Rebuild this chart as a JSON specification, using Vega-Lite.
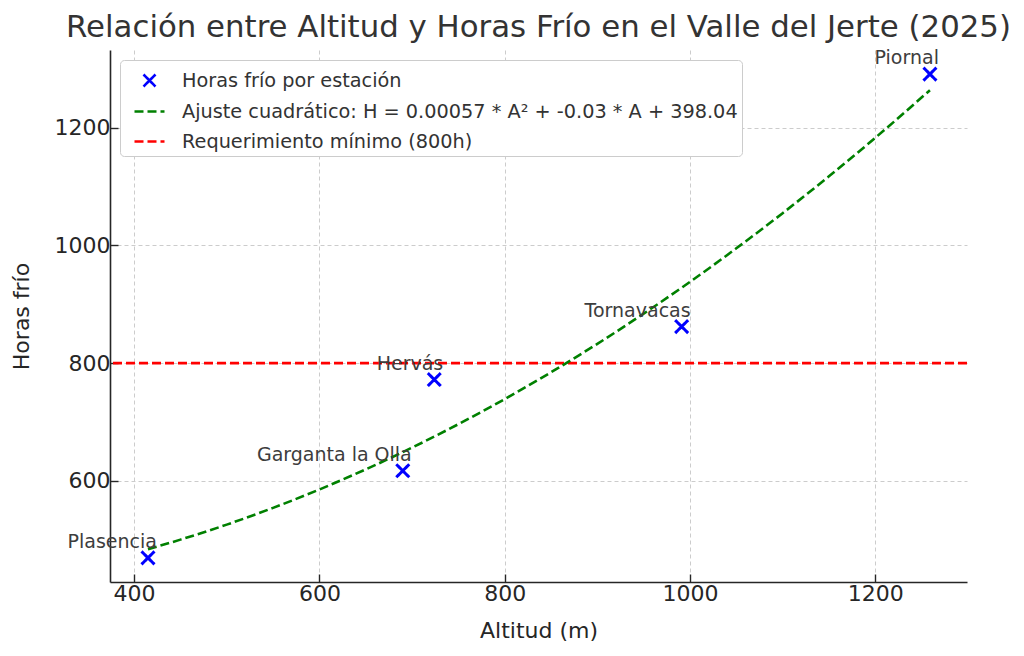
{
  "$schema": "https://vega.github.io/schema/vega-lite/v6.json",
  "width": 857,
  "height": 532,
  "autosize": "none",
  "padding": {"left": 110, "top": 50, "right": 57, "bottom": 74},
  "background": "#ffffff",
  "config": {
    "font": "DejaVu Sans",
    "view": {"stroke": null},
    "axis": {
      "labelFont": "DejaVu Sans",
      "titleFont": "DejaVu Sans",
      "labelFontSize": 22,
      "titleFontSize": 22,
      "titleFontWeight": "normal",
      "labelColor": "#262626",
      "titleColor": "#262626",
      "domainColor": "#262626",
      "domainWidth": 1.6,
      "tickColor": "#262626",
      "tickSize": -8,
      "tickWidth": 1.4,
      "grid": true,
      "gridColor": "#cccccc",
      "gridDash": [4, 3],
      "gridWidth": 1,
      "format": "d"
    }
  },
  "title": {
    "text": "Relación entre Altitud y Horas Frío en el Valle del Jerte (2025)",
    "font": "DejaVu Sans",
    "fontSize": 30.8,
    "fontWeight": "normal",
    "color": "#333333",
    "anchor": "middle",
    "offset": 5
  },
  "datasets": {
    "estaciones": [
      {"Estacion": "Plasencia", "Altitud": 415, "Horas": 469, "serie": "Horas frío por estación"},
      {"Estacion": "Garganta la Olla", "Altitud": 690, "Horas": 617, "serie": "Horas frío por estación"},
      {"Estacion": "Hervás", "Altitud": 724, "Horas": 772, "serie": "Horas frío por estación"},
      {"Estacion": "Tornavacas", "Altitud": 991, "Horas": 862, "serie": "Horas frío por estación"},
      {"Estacion": "Piornal", "Altitud": 1259, "Horas": 1291, "serie": "Horas frío por estación"}
    ],
    "ajuste": [
      {"Altitud": 415, "Horas": 483.8},
      {"Altitud": 450, "Horas": 500.0},
      {"Altitud": 500, "Horas": 525.5},
      {"Altitud": 550, "Horas": 554.0},
      {"Altitud": 600, "Horas": 585.2},
      {"Altitud": 650, "Horas": 619.4},
      {"Altitud": 700, "Horas": 656.3},
      {"Altitud": 750, "Horas": 696.2},
      {"Altitud": 800, "Horas": 738.8},
      {"Altitud": 850, "Horas": 784.4},
      {"Altitud": 900, "Horas": 832.7},
      {"Altitud": 950, "Horas": 884.0},
      {"Altitud": 1000, "Horas": 938.0},
      {"Altitud": 1050, "Horas": 995.0},
      {"Altitud": 1100, "Horas": 1054.7},
      {"Altitud": 1150, "Horas": 1117.4},
      {"Altitud": 1200, "Horas": 1182.8},
      {"Altitud": 1259, "Horas": 1263.7}
    ],
    "umbral": [
      {"Horas": 800}
    ]
  },
  "layer": [
    {
      "data": {"name": "umbral"},
      "transform": [{"calculate": "'Requerimiento mínimo (800h)'", "as": "serie"}],
      "mark": {"type": "rule", "strokeWidth": 2.6},
      "encoding": {
        "y": {"field": "Horas", "type": "quantitative"},
        "color": {"field": "serie", "type": "nominal"},
        "shape": {"field": "serie", "type": "nominal"},
        "strokeDash": {"field": "serie", "type": "nominal"}
      }
    },
    {
      "data": {"name": "ajuste"},
      "transform": [{"calculate": "'Ajuste cuadrático: H = 0.00057 * A² + -0.03 * A + 398.04'", "as": "serie"}],
      "mark": {"type": "line", "strokeWidth": 2.6, "interpolate": "monotone"},
      "encoding": {
        "x": {"field": "Altitud", "type": "quantitative"},
        "y": {"field": "Horas", "type": "quantitative"},
        "color": {"field": "serie", "type": "nominal"},
        "shape": {"field": "serie", "type": "nominal"},
        "strokeDash": {"field": "serie", "type": "nominal"}
      }
    },
    {
      "data": {"name": "estaciones"},
      "mark": {"type": "point", "filled": false, "size": 1050, "strokeWidth": 3, "opacity": 1},
      "encoding": {
        "x": {
          "field": "Altitud",
          "type": "quantitative",
          "scale": {"domain": [374, 1299], "nice": false, "zero": false},
          "axis": {"title": "Altitud (m)", "values": [400, 600, 800, 1000, 1200], "labelPadding": 9, "titlePadding": 16}
        },
        "y": {
          "field": "Horas",
          "type": "quantitative",
          "scale": {"domain": [428, 1332], "nice": false, "zero": false},
          "axis": {"title": "Horas frío", "values": [600, 800, 1000, 1200], "labelPadding": 8, "titlePadding": 21}
        },
        "color": {
          "field": "serie",
          "type": "nominal",
          "scale": {
            "domain": ["Horas frío por estación", "Ajuste cuadrático: H = 0.00057 * A² + -0.03 * A + 398.04", "Requerimiento mínimo (800h)"],
            "range": ["#0000ff", "#008000", "#ff0000"]
          },
          "legend": {
            "title": null,
            "orient": "top-left",
            "offset": 10,
            "labelFont": "DejaVu Sans",
            "labelFontSize": 19.3,
            "labelColor": "#333333",
            "labelLimit": 0,
            "symbolSize": 900,
            "symbolStrokeWidth": 2.6,
            "symbolOffset": 9,
            "rowPadding": 3,
            "labelOffset": 16,
            "padding": 4,
            "fillColor": "#ffffff",
            "strokeColor": "#cccccc",
            "cornerRadius": 4
          }
        },
        "shape": {
          "field": "serie",
          "type": "nominal",
          "scale": {
            "domain": ["Horas frío por estación", "Ajuste cuadrático: H = 0.00057 * A² + -0.03 * A + 398.04", "Requerimiento mínimo (800h)"],
            "range": ["M-0.4,-0.4L0.4,0.4M0.4,-0.4L-0.4,0.4", "stroke", "stroke"]
          }
        },
        "strokeDash": {
          "field": "serie",
          "type": "nominal",
          "scale": {
            "domain": ["Horas frío por estación", "Ajuste cuadrático: H = 0.00057 * A² + -0.03 * A + 398.04", "Requerimiento mínimo (800h)"],
            "range": [[1, 0], [9, 4], [9, 4]]
          }
        }
      }
    },
    {
      "data": {"name": "estaciones"},
      "mark": {"type": "text", "align": "right", "baseline": "alphabetic", "dx": 9, "dy": -10, "fontSize": 19, "font": "DejaVu Sans", "color": "#3d3d3d"},
      "encoding": {
        "x": {"field": "Altitud", "type": "quantitative"},
        "y": {"field": "Horas", "type": "quantitative"},
        "text": {"field": "Estacion"}
      }
    }
  ]
}
